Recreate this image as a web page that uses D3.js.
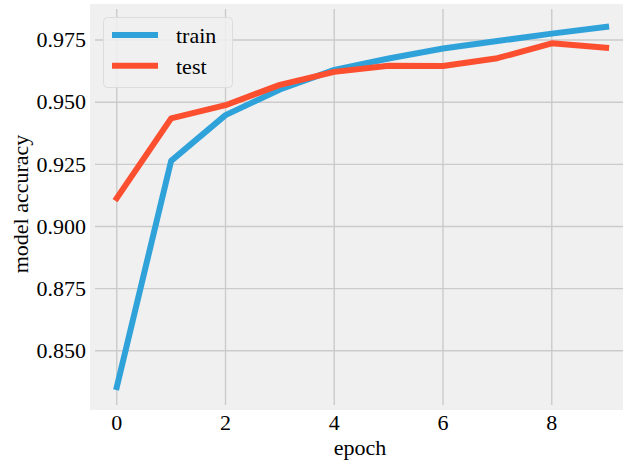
<!DOCTYPE html>
<html>
<head>
<meta charset="utf-8">
<script src="https://cdn.jsdelivr.net/npm/d3@7"></script>
<style>
  html, body { margin: 0; padding: 0; background: #ffffff; }
  svg { display: block; }
</style>
</head>
<body>
<svg id="chart" width="623" height="464"></svg>
<script>
// Training history: accuracy per epoch
const epochs = [0, 1, 2, 3, 4, 5, 6, 7, 8, 9];
const trainAcc = [0.8354, 0.9264, 0.9448, 0.9551, 0.9630, 0.9676, 0.9716, 0.9746, 0.9776, 0.9803];
const testAcc  = [0.9114, 0.9435, 0.9488, 0.9570, 0.9622, 0.9647, 0.9646, 0.9677, 0.9737, 0.9719];
const xTicks = [0, 2, 4, 6, 8];
const yTicks = [0.850, 0.875, 0.900, 0.925, 0.950, 0.975];
const seriesNames = ["train", "test"];
const seriesColors = ["#30a2da", "#fc4f30"];

const FONT = "'Liberation Serif', 'Times New Roman', Tinos, 'DejaVu Serif', serif";

const svg = d3.select("#chart")
  .attr("font-family", FONT);
const W = 623, H = 464;

// axes box (inner region where grid is drawn)
const ax = { left: 95, right: 628, top: 9, bottom: 405 };

const x = d3.scaleLinear().domain([-0.4, 9.4]).range([ax.left, ax.left + 9.8 * 54.375]);
const y = d3.scaleLinear().domain([0.8282, 0.9875]).range([ax.bottom, ax.top]);

// axes background
svg.append("rect")
  .attr("x", 90).attr("y", 4)
  .attr("width", W - 90).attr("height", 410 - 4)
  .attr("fill", "#f0f0f0");

const clip = svg.append("defs").append("clipPath").attr("id", "axclip");
clip.append("rect").attr("x", ax.left).attr("y", ax.top)
  .attr("width", W - ax.left).attr("height", ax.bottom - ax.top);

// grid
const grid = svg.append("g").attr("clip-path", "url(#axclip)");
grid.selectAll("line.gx").data(xTicks).join("line")
  .attr("x1", d => x(d)).attr("x2", d => x(d))
  .attr("y1", ax.top).attr("y2", ax.bottom)
  .attr("stroke", "#cbcbcb").attr("stroke-width", 1.4);
grid.selectAll("line.gy").data(yTicks).join("line")
  .attr("x1", ax.left).attr("x2", W)
  .attr("y1", d => y(d)).attr("y2", d => y(d))
  .attr("stroke", "#cbcbcb").attr("stroke-width", 1.4);

const txt = sel => sel.attr("font-family", FONT).attr("fill", "#000").attr("font-size", 22);

// tick labels
svg.append("g").selectAll("text").data(xTicks).join("text")
  .call(txt)
  .attr("x", d => x(d)).attr("y", 430)
  .attr("text-anchor", "middle")
  .text(d => d3.format("d")(d));

svg.append("g").selectAll("text").data(yTicks).join("text")
  .call(txt)
  .attr("x", 86).attr("y", d => y(d))
  .attr("dy", "0.33em")
  .attr("text-anchor", "end")
  .text(d => d3.format(".3f")(d));

// axis titles
svg.append("text")
  .call(txt)
  .attr("x", 360).attr("y", 455)
  .attr("text-anchor", "middle")
  .text("epoch");

svg.append("text")
  .call(txt)
  .attr("transform", "translate(28,204) rotate(-90)")
  .attr("text-anchor", "middle")
  .text("model accuracy");

// lines
const line = d3.line().x((d, i) => x(epochs[i])).y(d => y(d));
const plot = svg.append("g").attr("clip-path", "url(#axclip)");
[trainAcc, testAcc].forEach((vals, k) => {
  plot.append("path")
    .datum(vals)
    .attr("d", line)
    .attr("fill", "none")
    .attr("stroke", seriesColors[k])
    .attr("stroke-width", 6)
    .attr("stroke-linejoin", "round")
    .attr("stroke-linecap", "square");
});

// legend
const lg = svg.append("g");
lg.append("rect")
  .attr("x", 103.5).attr("y", 17.5)
  .attr("width", 129).attr("height", 70)
  .attr("rx", 4).attr("ry", 4)
  .attr("fill", "#f0f0f0").attr("fill-opacity", 0.85)
  .attr("stroke", "#dcdcdc").attr("stroke-width", 1);
const rowY = [35, 65.7];
seriesNames.forEach((name, k) => {
  lg.append("line")
    .attr("x1", 112).attr("x2", 158)
    .attr("y1", rowY[k]).attr("y2", rowY[k])
    .attr("stroke", seriesColors[k]).attr("stroke-width", 6);
  lg.append("text")
    .call(txt)
    .attr("x", 176).attr("y", rowY[k] + 8)
    .text(name);
});
</script>
</body>
</html>
